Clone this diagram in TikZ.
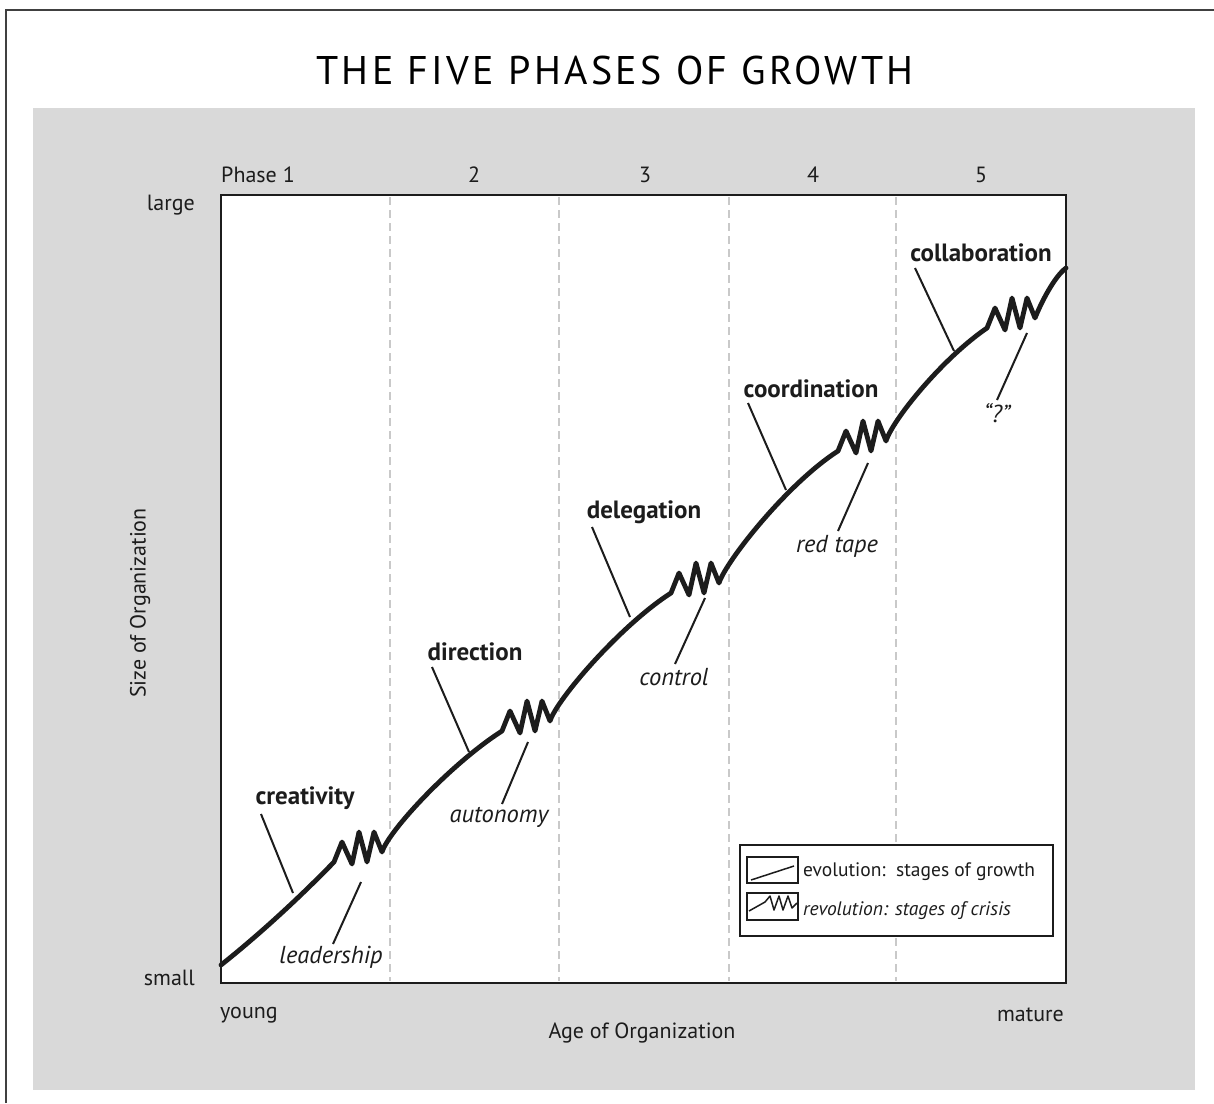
\documentclass[tikz,border=0pt]{standalone}
\usepackage{fontspec}
\setmainfont{PT Sans}
\setsansfont{PT Sans}
\usetikzlibrary{calc,positioning}
\definecolor{panel}{HTML}{D9D9D9}
\definecolor{phasegray}{HTML}{C9C9C9}
\definecolor{ink}{HTML}{1C1C1C}

\begin{document}
\begin{tikzpicture}[x=1pt,y=-1pt,
  stage/.style={inner sep=0pt, text=ink, font=\fontsize{25}{28}\selectfont\bfseries},
  crisis/.style={inner sep=0pt, text=ink, font=\fontsize{24.5}{28}\selectfont\itshape},
  axis/.style={inner sep=0pt, text=ink, font=\fontsize{22}{25}\selectfont},
  keytext/.style={inner sep=0pt, text=ink, font=\fontsize{19.5}{22}\selectfont},
  leader/.style={line width=2pt, ink},
  growth/.style={line width=4.8pt, ink, line join=round, line cap=round},
  phaseline/.style={line width=1.3pt, phasegray, dash pattern=on 8pt off 5pt}]
  \def\zig{--++(8,-20)--++(10,22)--++(7,-32)--++(8,30)--++(7,-30)--++(8,20)}
  \useasboundingbox (0,0) rectangle (1214,1103);
  \draw[line width=2.5pt, black!75] (6,1103)--(6,10)--(1214,10);
  \fill[panel] (33,108) rectangle (1195,1090);
  \node[inner sep=0pt, font=\fontsize{40}{44}\selectfont] (title) at (615,70)
    {\addfontfeature{LetterSpace=8.5}THE FIVE PHASES OF GROWTH};
  \fill[white] (221,195) rectangle (1066,983);
  \foreach \x in {390,559,729,896}
    \draw[phaseline] (\x,197)--(\x,981);
  \draw[line width=2.6pt, ink] (221,195) rectangle (1066,983);
  \node[axis, anchor=west] (ph1) at (221,175) {Phase 1};
  \foreach \n/\x in {2/474,3/645,4/813,5/981}
    \node[axis] (ph\n) at (\x,175) {\n};
  \node[axis, anchor=east] (large) at (195,205) {large};
  \node[axis, anchor=east] (small) at (195,978) {small};
  \node[axis, anchor=west] (young) at (220,1015) {young};
  \node[axis, anchor=east] (mature) at (1064,1015) {mature};
  \node[axis] (age) at (642,1033) {Age of Organization};
  \node[axis, rotate=90] (size) at (140,603) {Size of Organization};
  \draw[growth] (221,965) .. controls (260,934) and (300,897) .. (334,862) \zig
    .. controls +(7,-22) and +(-50,32) .. (502,731) \zig
    .. controls +(7,-22) and +(-50,32) .. (671,593) \zig
    .. controls +(7,-22) and +(-50,32) .. (838,451) \zig
    .. controls +(7,-22) and +(-44,30) .. (987,328) \zig
    .. controls +(6,-15) and +(-12,9) .. (1066,268);
  \node[stage] (creativity) at (305,798) {creativity};
  \node[stage] (direction) at (475,652) {direction};
  \node[stage] (delegation) at (644,512) {delegation};
  \node[stage] (coordination) at (811,389) {coordination};
  \node[stage] (collaboration) at (981,253) {collaboration};
  \node[crisis] (leadership) at (331,957) {leadership};
  \node[crisis] (autonomy) at (499,817) {autonomy};
  \node[crisis] (control) at (674,677) {control};
  \node[crisis] (redtape) at (837,546) {red tape};
  \node[crisis] (unknown) at (997,413) {“?”};
  \coordinate (cre-a) at (261,814);  \coordinate (cre-b) at (293,893);
  \coordinate (dir-a) at (432,667);  \coordinate (dir-b) at (469,752);
  \coordinate (del-a) at (592,527);  \coordinate (del-b) at (630,617);
  \coordinate (coo-a) at (748,403);  \coordinate (coo-b) at (786,490);
  \coordinate (col-a) at (915,268);  \coordinate (col-b) at (954,351);
  \coordinate (lea-a) at (361,882);  \coordinate (lea-b) at (333,944);
  \coordinate (aut-a) at (528,742);  \coordinate (aut-b) at (502,804);
  \coordinate (con-a) at (705,598);  \coordinate (con-b) at (675,664);
  \coordinate (red-a) at (868,463);  \coordinate (red-b) at (838,531);
  \coordinate (unk-a) at (1027,333); \coordinate (unk-b) at (997,400);
  \foreach \p in {cre,dir,del,coo,col,lea,aut,con,red,unk}
    \draw[leader] (\p-a)--(\p-b);
  \draw[line width=2pt, ink, fill=white] (740,845) rectangle (1053,936);
  \draw[line width=1.8pt, ink] (747,857) rectangle (798,883);
  \draw[line width=1.5pt, ink] (751,880)--(794,866);
  \draw[line width=1.8pt, ink] (747,893) rectangle (798,920);
  \draw[line width=1.5pt, ink, line join=round] (749,911)--(765,902)--(770,896)--(774,910)--(779,896)
    --(783,910)--(788,896)--(792,908)--(797,903);
  \node[keytext, anchor=west] (evolution) at (803,872) {evolution:\ \ stages of growth};
  \node[keytext, anchor=west] (revolution) at (803,911) {\itshape revolution: stages of crisis};
\end{tikzpicture}
\end{document}
